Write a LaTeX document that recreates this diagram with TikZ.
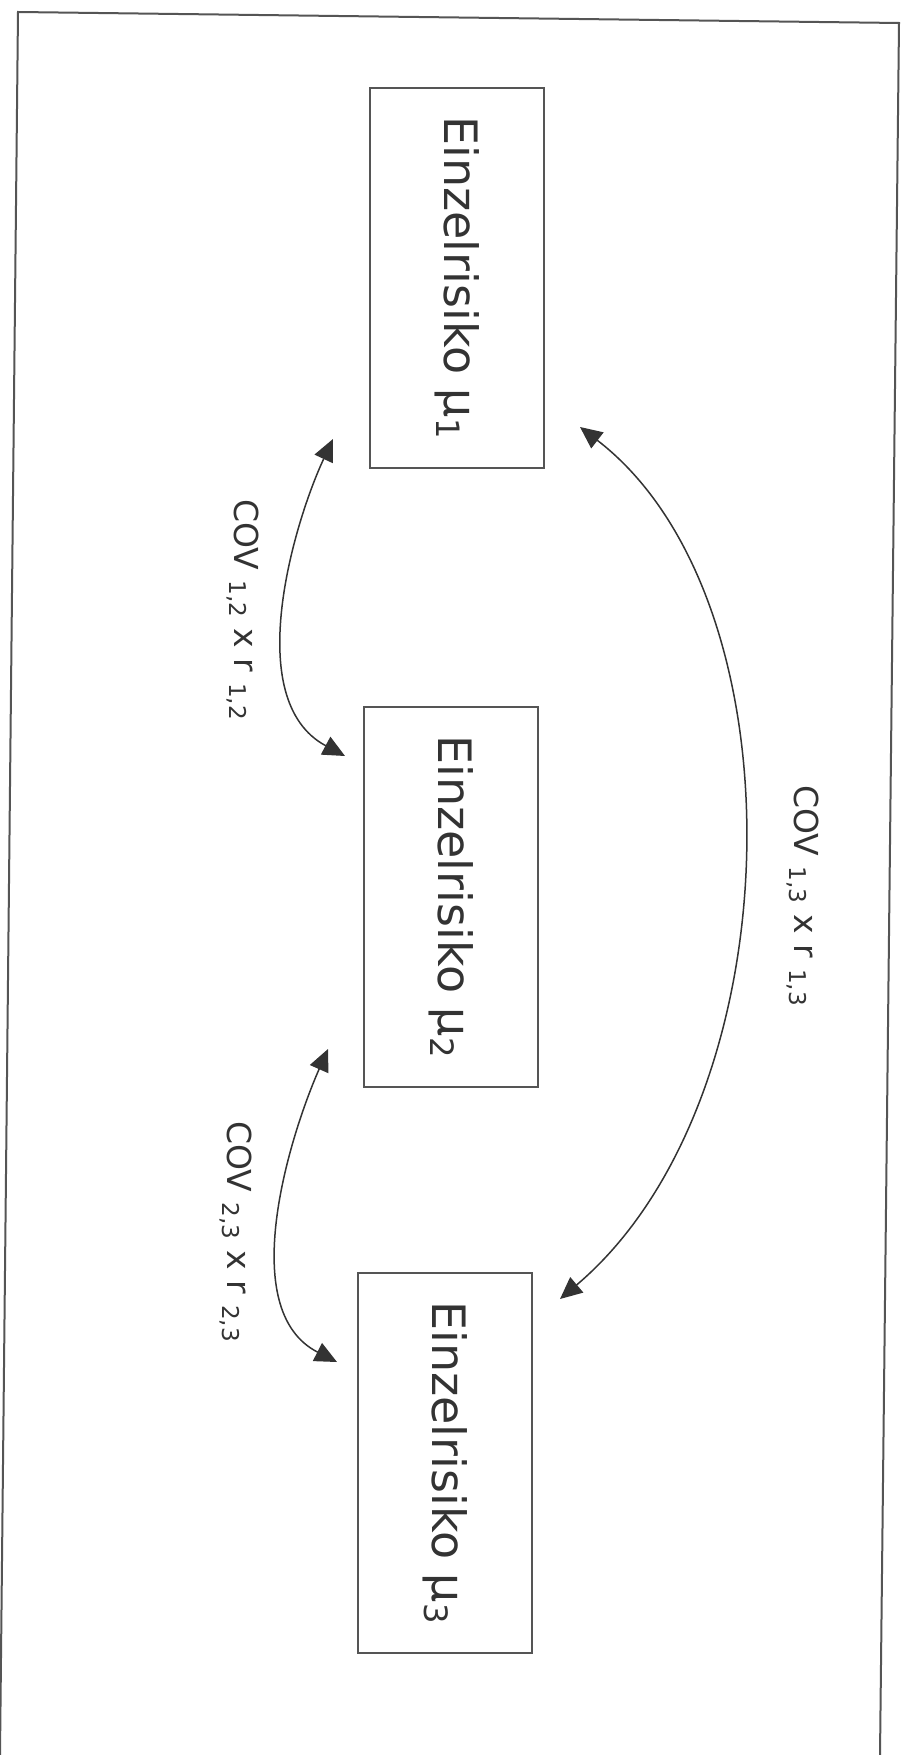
\documentclass[tikz,border=0pt]{standalone}
\usepackage{fontspec}
\setmainfont{DejaVu Sans}
\usetikzlibrary{arrows.meta}
\definecolor{ink}{HTML}{333333}
\definecolor{lin}{HTML}{555555}
\newcommand{\lowsub}[1]{\raisebox{-0.45ex}{\footnotesize #1}}
\tikzset{
  riskbox/.style={draw=lin, line width=1pt, rotate=-90, minimum width=190pt, minimum height=87pt, inner sep=0pt, text=ink, font=\fontsize{23}{26}\selectfont},
  covlabel/.style={rotate=-90, inner sep=0pt, text=ink, font=\fontsize{16.5}{19}\selectfont},
  link/.style={draw=ink, line width=0.75pt, {Triangle[length=11pt,width=10pt]}-{Triangle[length=11pt,width=10pt]}}
}
\begin{document}
\begin{tikzpicture}[x=0.5pt,y=-0.5pt]
\useasboundingbox (0,0) rectangle (906,1755);
\fill[white] (0,0) rectangle (906,1755);
% outer frame
\draw[lin, line width=1pt] (0,1755) -- (18,12) -- (899,23) -- (880,1755);
% boxes
\node[riskbox] (b1) at (457,278) {Einzelrisiko μ\textsubscript{1}};
\node[riskbox] (b2) at (451,897) {Einzelrisiko μ\textsubscript{2}};
\node[riskbox] (b3) at (445,1463) {Einzelrisiko μ\textsubscript{3}};
% arrow ends
\coordinate (a1) at (333,439);
\coordinate (a2) at (345,756);
\coordinate (c1) at (328,1049);
\coordinate (c2) at (337,1362);
\coordinate (d1) at (580,427);
\coordinate (d2) at (560,1299);
\draw[link] (a1) .. controls (295,520) and (240,700) .. (a2);
\draw[link] (c1) .. controls (290,1135) and (235,1310) .. (c2);
\draw[link] (d1) .. controls (805,600) and (795,1100) .. (d2);
% labels
\node[covlabel] (l12) at (243,610) {COV \textsubscript{1,2} x r \textsubscript{1,2}};
\node[covlabel] (l23) at (236,1232) {COV \textsubscript{2,3} x r \textsubscript{2,3}};
\node[covlabel] (l13) at (803,896) {COV \textsubscript{1,3} x r \textsubscript{1,3}};
\end{tikzpicture}
\end{document}
